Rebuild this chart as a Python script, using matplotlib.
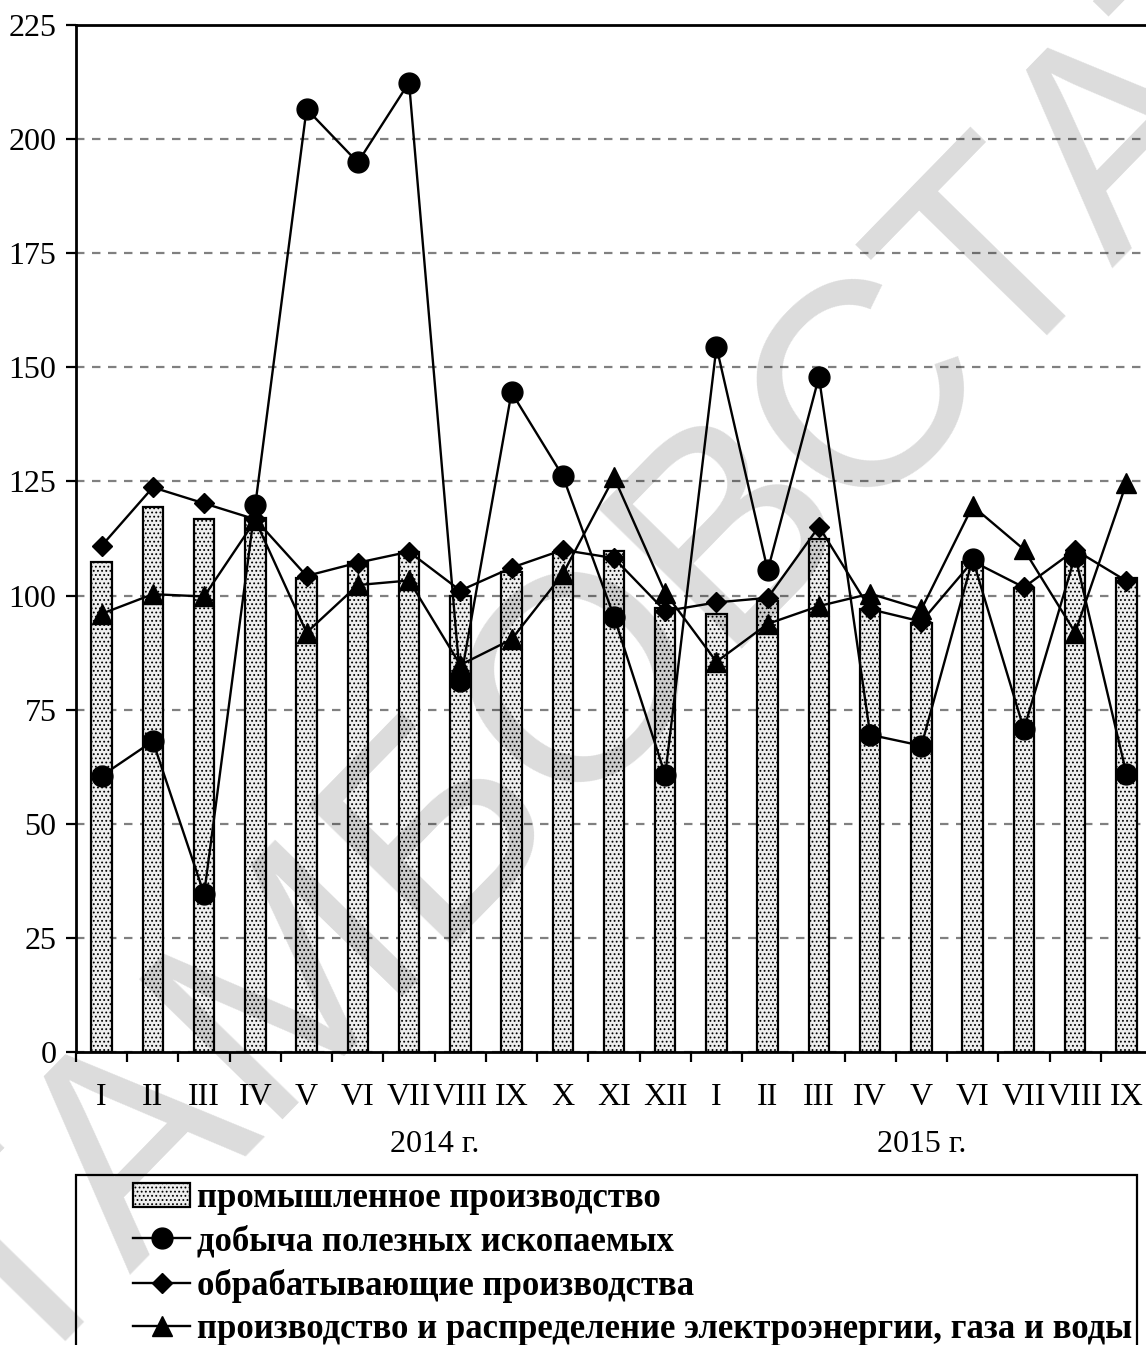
import matplotlib
matplotlib.use("Agg")
import matplotlib.pyplot as plt
import numpy as np
from matplotlib.lines import Line2D
from matplotlib.patches import Patch, Rectangle
from matplotlib.transforms import blended_transform_factory

plt.rcParams['font.family'] = ['Liberation Serif', 'DejaVu Serif']
plt.rcParams['hatch.color'] = '#7a7a7a'
plt.rcParams['hatch.linewidth'] = 0.8

months = ["I", "II", "III", "IV", "V", "VI", "VII", "VIII", "IX", "X", "XI", "XII",
          "I", "II", "III", "IV", "V", "VI", "VII", "VIII", "IX"]
years = ["2014 г.", "2015 г."]
year_pos = [6.5, 16.0]

industry = [107.4, 119.3, 116.7, 117.0, 103.9, 107.4, 109.6, 100.0, 105.2, 109.5, 109.8,
            97.3, 95.9, 98.7, 112.5, 97.0, 93.9, 107.4, 101.6, 108.9, 103.9]
mining = [60.5, 68.1, 34.6, 119.9, 206.6, 194.9, 212.4, 81.2, 144.5, 126.2, 95.4,
          60.7, 154.5, 105.5, 147.9, 69.5, 67.1, 108.0, 70.7, 108.7, 61.0]
manufacturing = [110.9, 123.7, 120.2, 116.7, 104.3, 107.2, 109.6, 101.1, 106.1, 110.0, 108.2,
                 96.6, 98.5, 99.5, 115.1, 97.0, 94.3, 107.5, 101.8, 110.0, 103.2]
utilities = [96.0, 100.3, 99.8, 116.5, 91.9, 102.3, 103.3, 84.8, 90.4, 104.7, 125.9,
             100.6, 85.5, 93.8, 97.7, 100.4, 97.0, 119.6, 110.1, 91.9, 124.6]

series_names = ["промышленное производство",
                "добыча полезных ископаемых",
                "обрабатывающие производства",
                "производство и распределение электроэнергии, газа и воды"]

W, H = 1146, 1345
fig = plt.figure(figsize=(W / 100, H / 100), dpi=100)
ax = fig.add_axes([76 / W, (H - 1052) / H, 1076 / W, 1027 / H])

x = np.arange(len(months))
ax.bar(x, industry, width=0.4, facecolor='#eeeeee', edgecolor='black',
       linewidth=1.6, hatch='....', zorder=2)

lw = 1.7
ax.plot(x, mining, color='black', lw=lw, marker='o', ms=15, zorder=4)
ax.plot(x, manufacturing, color='black', lw=lw, marker='D', ms=10.5, zorder=4)
ax.plot(x, utilities, color='black', lw=lw, marker='^', ms=15, zorder=4)

ax.set_xlim(-0.5, len(months) - 0.5)
ax.set_ylim(0, 225)
ax.set_yticks(np.arange(0, 226, 25))
ax.yaxis.grid(True, color='#808080', linestyle=(0, (3.8, 3.4)), linewidth=1.6, zorder=0)
ax.set_axisbelow(True)

ax.set_xticks(x)
ax.set_xticklabels(months)
ax.set_xticks(np.arange(-0.5, len(months), 1.0), minor=True)
ax.tick_params(axis='x', which='major', length=0, pad=22, labelsize=23)
ax.tick_params(axis='x', which='minor', length=7, width=1.6, direction='out')
ax.tick_params(axis='y', length=7, width=1.6, direction='out', pad=7, labelsize=23)

for side in ['left', 'bottom', 'top']:
    ax.spines[side].set_linewidth(2)
ax.spines['right'].set_visible(False)

# year captions under the month labels
tr = blended_transform_factory(ax.transData, fig.transFigure)
for yl, xp in zip(years, year_pos):
    ax.text(xp, (H - 1145) / H, yl, transform=tr, ha='center', va='center', fontsize=23)

# legend box running off the bottom edge
fig.patches.append(Rectangle((76 / W, -0.05), (1137 - 76) / W, (H - 1175) / H + 0.05,
                             transform=fig.transFigure, fill=False, edgecolor='black',
                             linewidth=1.6))
handles = [Patch(facecolor='#eeeeee', edgecolor='black', hatch='....', linewidth=1.6),
           Line2D([], [], color='black', lw=lw, marker='o', ms=15),
           Line2D([], [], color='black', lw=lw, marker='D', ms=10.5),
           Line2D([], [], color='black', lw=lw, marker='^', ms=15)]
fig.legend(handles, series_names, loc='upper left',
           bbox_to_anchor=(133 / W, (H - 1182) / H), frameon=False,
           prop={'weight': 'bold', 'size': 25}, handlelength=1.65, handletextpad=0.2,
           labelspacing=0.3, borderpad=0, borderaxespad=0)

# watermark
fig.text(630 / W, (H - 650) / H, "ТАМБОВСТАТ", family='Liberation Sans', fontsize=210,
         color='black', alpha=0.14, rotation=45.7, rotation_mode='anchor',
         ha='center', va='center', zorder=10)

fig.savefig("out.png", dpi=100)
